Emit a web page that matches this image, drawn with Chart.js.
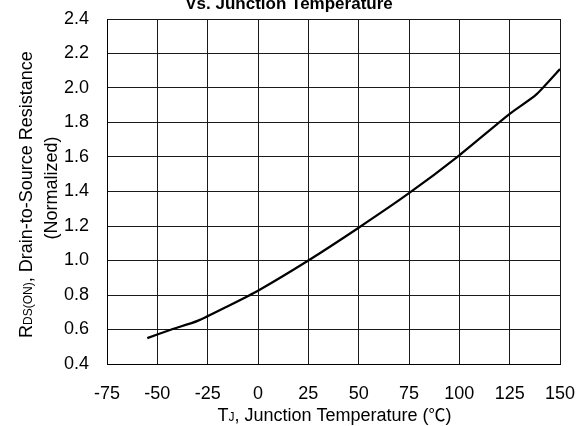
<!DOCTYPE html>
<html><head><meta charset="utf-8">
<script src="https://cdn.jsdelivr.net/npm/chart.js@4/dist/chart.umd.min.js"></script>
<style>html,body{margin:0;padding:0;background:#fff}#wrap{width:583px;height:426px}</style>
</head><body><div id="wrap"><canvas id="c" width="583" height="426"></canvas></div>
<script>
const temperatures = [-55, -43, -30, -15, 0, 25, 50, 75, 100, 125, 138, 150];
const resistance = [0.55, 0.60, 0.65, 0.735, 0.825, 1.00, 1.19, 1.39, 1.61, 1.85, 1.96, 2.11];
const xTickValues = [-75, -50, -25, 0, 25, 50, 75, 100, 125, 150];
const yTickValues = [0.4, 0.6, 0.8, 1.0, 1.2, 1.4, 1.6, 1.8, 2.0, 2.2, 2.4];
const titleText = 'Vs. Junction Temperature';
const xTitleMain = 'T';
const xTitleSub = 'J';
const xTitleRest = ', Junction Temperature (';
const xTitleUnit = '\u2103';
const xTitleEnd = ')';
const yTitleMain = 'R';
const yTitleSub = 'DS(ON)';
const yTitleRest = ', Drain-to-Source Resistance';
const yTitleLine2 = '(Normalized)';

const FONT = '"Liberation Sans", Arial, Helvetica, sans-serif';
const CJK = '"Noto Sans CJK SC", "Noto Sans CJK JP", sans-serif';

const points = temperatures.map((t, i) => ({ x: t, y: resistance[i] }));

function drawMixed(ctx, parts, cx, cy) {
  let total = 0;
  parts.forEach(p => { ctx.font = p.font; p.w = ctx.measureText(p.text).width; total += p.w; });
  let x = cx - total / 2;
  parts.forEach(p => {
    ctx.font = p.font;
    ctx.fillText(p.text, x, cy + (p.dy || 0));
    x += p.w;
  });
}

const textPlugin = {
  id: 'textPlugin',
  afterDraw(chart) {
    const ctx = chart.ctx;
    const area = chart.chartArea;
    ctx.save();
    ctx.fillStyle = '#000';
    ctx.textBaseline = 'alphabetic';
    ctx.textAlign = 'left';
    drawMixed(ctx, [{ text: titleText, font: 'bold 17px ' + FONT }], 289, 9);
    const xc = (area.left + area.right) / 2;
    drawMixed(ctx, [
      { text: xTitleMain, font: '18px ' + FONT },
      { text: xTitleSub, font: '12px ' + FONT },
      { text: xTitleRest, font: '18px ' + FONT },
      { text: xTitleUnit, font: '17px ' + CJK },
      { text: xTitleEnd, font: '18px ' + FONT }
    ], xc + 1, 421);
    const yc = (area.top + area.bottom) / 2;
    ctx.translate(32, yc + 3);
    ctx.rotate(-Math.PI / 2);
    drawMixed(ctx, [
      { text: yTitleMain, font: '18px ' + FONT },
      { text: yTitleSub, font: '12px ' + FONT },
      { text: yTitleRest, font: '18px ' + FONT }
    ], 0, 0);
    ctx.restore();
    ctx.save();
    ctx.fillStyle = '#000';
    ctx.translate(57, yc - 3.5);
    ctx.rotate(-Math.PI / 2);
    drawMixed(ctx, [{ text: yTitleLine2, font: '18px ' + FONT }], 0, 0);
    ctx.restore();
  }
};

new Chart(document.getElementById('c'), {
  type: 'line',
  data: {
    datasets: [{
      data: points,
      borderColor: '#000',
      borderWidth: 2.2,
      pointRadius: 0,
      tension: 0.2,
      fill: false
    }]
  },
  options: {
    responsive: false,
    animation: false,
    devicePixelRatio: 1,
    layout: { padding: { left: 0, right: 23, top: 19, bottom: 0 } },
    plugins: { legend: { display: false }, title: { display: false }, tooltip: { enabled: false } },
    scales: {
      x: {
        type: 'linear',
        min: -75, max: 150,
        afterBuildTicks: s => { s.ticks = xTickValues.map(v => ({ value: v })); },
        afterFit: s => { s.height = 62; s.paddingLeft = 0; s.paddingRight = 0; },
        grid: { color: '#1a1a1a', lineWidth: 1, drawTicks: false },
        border: { display: true, color: '#000', width: 1 },
        ticks: { color: '#000', font: { family: FONT, size: 18 }, padding: 19, maxRotation: 0, autoSkip: false }
      },
      y: {
        min: 0.4, max: 2.4,
        afterBuildTicks: s => { s.ticks = yTickValues.map(v => ({ value: v })); },
        afterFit: s => { s.width = 107; s.paddingTop = 0; s.paddingBottom = 0; },
        grid: { color: '#1a1a1a', lineWidth: 1, drawTicks: false },
        border: { display: true, color: '#000', width: 1 },
        ticks: { color: '#000', font: { family: FONT, size: 18 }, padding: 18, autoSkip: false,
          callback: v => Number(v).toFixed(1) }
      }
    }
  },
  plugins: [textPlugin]
});
</script></body></html>
